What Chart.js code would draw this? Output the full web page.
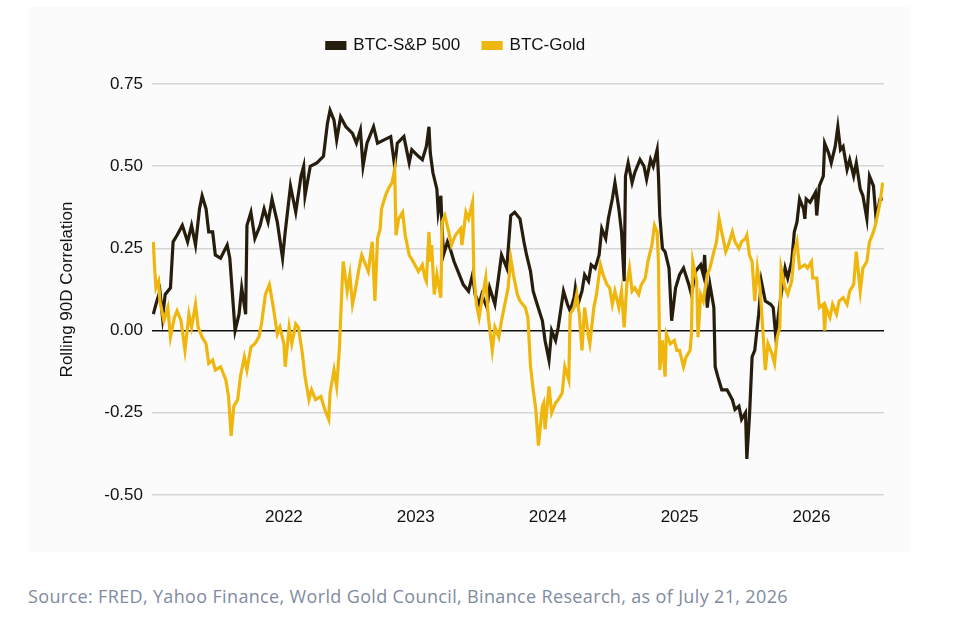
<!DOCTYPE html>
<html>
<head>
<meta charset="utf-8">
<title>BTC rolling correlation</title>
<script src="https://cdn.jsdelivr.net/npm/chart.js@4.4.1/dist/chart.umd.min.js"></script>
<style>
  html, body { margin: 0; padding: 0; background: #fff; }
  #panel { position: absolute; left: 28px; top: 7px; width: 882px; height: 545px; background: #fbfbfb; }
  #source { position: absolute; left: 28px; top: 584px; font: 18px "Open Sans", sans-serif; letter-spacing: 0.35px; color: #7f8ba0; white-space: nowrap; }
</style>
</head>
<body>
<div id="panel"><canvas id="myChart"></canvas></div>
<div id="source">Source: FRED, Yahoo Finance, World Gold Council, Binance Research, as of July 21, 2026</div>
<script>
// dates are fractional years
const spDates = [
  2021.01,2021.03,2021.06,2021.08,2021.10,2021.14,2021.16,2021.19,2021.23,2021.27,2021.30,2021.33,2021.36,2021.38,2021.41,2021.43,2021.46,2021.48,2021.52,2021.57,2021.59,2021.61,2021.63,2021.66,2021.68,2021.71,2021.72,2021.75,2021.78,2021.82,2021.85,2021.88,2021.91,2021.95,2021.99,
  2022.01,2022.03,2022.05,2022.09,2022.13,2022.15,2022.16,2022.20,2022.25,2022.30,2022.33,2022.35,2022.38,2022.40,2022.43,2022.47,2022.52,2022.55,2022.58,2022.60,2022.63,2022.68,2022.71,2022.76,2022.81,2022.84,2022.86,2022.91,2022.95,2022.97,
  2023.02,2023.05,2023.08,2023.10,2023.11,2023.13,2023.16,2023.17,2023.19,2023.20,2023.21,2023.24,2023.26,2023.29,2023.32,2023.36,2023.40,2023.43,2023.45,2023.48,2023.50,2023.54,2023.56,2023.60,2023.63,2023.65,2023.69,2023.72,2023.75,2023.79,2023.82,2023.84,2023.87,2023.89,2023.92,2023.96,2023.98,
  2024.01,2024.03,2024.06,2024.08,2024.12,2024.15,2024.17,2024.20,2024.21,2024.23,2024.26,2024.28,2024.31,2024.33,2024.36,2024.39,2024.41,2024.44,2024.46,2024.49,2024.51,2024.54,2024.56,2024.58,2024.59,2024.61,2024.64,2024.66,2024.70,2024.73,2024.75,2024.78,2024.80,2024.83,2024.84,2024.85,2024.87,2024.89,2024.92,2024.94,2024.97,
  2025.00,2025.03,2025.07,2025.09,2025.12,2025.16,2025.18,2025.19,2025.21,2025.23,2025.26,2025.27,2025.29,2025.32,2025.36,2025.40,2025.42,2025.45,2025.47,2025.50,2025.51,2025.53,2025.55,2025.57,2025.60,2025.62,2025.65,2025.69,2025.71,2025.73,2025.75,2025.77,2025.80,2025.82,2025.85,2025.87,2025.89,2025.91,2025.94,2025.95,2025.96,2025.99,
  2026.03,2026.04,2026.06,2026.09,2026.10,2026.13,2026.15,2026.18,2026.20,2026.22,2026.24,2026.27,2026.29,2026.32,2026.34,2026.37,2026.39,2026.42,2026.44,2026.47,2026.49,2026.52,2026.54
];
const spValues = [
  0.05,0.08,0.12,0.04,0.11,0.13,0.27,0.29,0.32,0.27,0.32,0.26,0.37,0.41,0.37,0.30,0.30,0.23,0.22,0.26,0.22,0.11,0.00,0.05,0.13,0.05,0.32,0.36,0.28,0.32,0.37,0.33,0.40,0.33,0.22,
  0.30,0.37,0.44,0.36,0.47,0.50,0.41,0.50,0.51,0.53,0.63,0.67,0.64,0.58,0.65,0.62,0.60,0.57,0.61,0.50,0.57,0.62,0.57,0.58,0.59,0.50,0.57,0.59,0.51,0.55,
  0.53,0.52,0.56,0.62,0.54,0.48,0.43,0.36,0.41,0.31,0.23,0.27,0.25,0.21,0.18,0.14,0.12,0.17,0.11,0.08,0.11,0.07,0.13,0.08,0.17,0.23,0.19,0.35,0.36,0.34,0.27,0.23,0.18,0.12,0.08,0.03,-0.03,
  -0.09,0.00,-0.03,0.01,0.12,0.08,0.06,0.10,0.13,0.08,0.12,0.17,0.15,0.20,0.19,0.23,0.31,0.28,0.34,0.40,0.45,0.37,0.30,0.15,0.47,0.51,0.45,0.48,0.52,0.50,0.46,0.52,0.50,0.55,0.47,0.35,0.25,0.24,0.19,0.03,0.13,
  0.17,0.19,0.14,0.11,0.18,0.20,0.17,0.23,0.07,0.14,0.07,-0.11,-0.14,-0.18,-0.18,-0.21,-0.24,-0.23,-0.27,-0.25,-0.39,-0.26,-0.08,-0.06,0.05,0.15,0.09,0.08,0.07,-0.02,0.05,0.11,0.19,0.16,0.21,0.30,0.33,0.40,0.37,0.34,0.40,0.39,
  0.42,0.35,0.44,0.47,0.57,0.54,0.51,0.56,0.62,0.55,0.56,0.49,0.52,0.47,0.51,0.43,0.41,0.34,0.47,0.44,0.34,0.40,0.40
];

const goldDates = [
  2021.01,2021.02,2021.03,2021.05,2021.06,2021.09,2021.12,2021.14,2021.17,2021.19,2021.22,2021.25,2021.28,2021.30,2021.33,2021.35,2021.38,2021.41,2021.43,2021.46,2021.48,2021.52,2021.56,2021.58,2021.60,2021.62,2021.65,2021.67,2021.70,2021.72,2021.75,2021.78,2021.81,2021.83,2021.86,2021.89,2021.92,2021.95,2021.97,
  2022.00,2022.01,2022.04,2022.06,2022.09,2022.11,2022.14,2022.16,2022.19,2022.21,2022.24,2022.28,2022.31,2022.34,2022.35,2022.38,2022.40,2022.42,2022.44,2022.45,2022.48,2022.50,2022.52,2022.54,2022.57,2022.59,2022.62,2022.64,2022.67,2022.69,2022.71,2022.73,2022.74,2022.77,2022.79,2022.82,2022.84,2022.85,2022.87,2022.90,2022.92,2022.95,2022.98,
  2023.02,2023.05,2023.07,2023.08,2023.10,2023.11,2023.12,2023.14,2023.16,2023.19,2023.20,2023.22,2023.25,2023.27,2023.30,2023.34,2023.35,2023.38,2023.40,2023.43,2023.44,2023.46,2023.48,2023.50,2023.53,2023.55,2023.58,2023.60,2023.63,2023.65,2023.68,2023.70,2023.72,2023.74,2023.77,2023.79,2023.83,2023.85,2023.87,2023.89,2023.91,2023.93,2023.96,2023.97,2023.98,
  2024.01,2024.03,2024.06,2024.08,2024.11,2024.13,2024.16,2024.17,2024.20,2024.22,2024.24,2024.26,2024.28,2024.31,2024.32,2024.35,2024.37,2024.40,2024.42,2024.45,2024.47,2024.49,2024.51,2024.54,2024.56,2024.58,2024.60,2024.62,2024.64,2024.66,2024.69,2024.71,2024.74,2024.76,2024.79,2024.81,2024.83,2024.84,2024.85,2024.87,2024.89,2024.90,2024.93,2024.96,2024.98,
  2025.00,2025.03,2025.05,2025.08,2025.09,2025.10,2025.13,2025.14,2025.16,2025.18,2025.21,2025.23,2025.26,2025.28,2025.30,2025.32,2025.35,2025.37,2025.40,2025.42,2025.45,2025.47,2025.50,2025.51,2025.53,2025.55,2025.57,2025.59,2025.61,2025.63,2025.65,2025.67,2025.70,2025.72,2025.74,2025.76,2025.77,2025.80,2025.82,2025.85,2025.87,2025.89,2025.91,2025.95,2025.97,
  2026.00,2026.01,2026.04,2026.06,2026.09,2026.10,2026.11,2026.14,2026.16,2026.19,2026.21,2026.24,2026.27,2026.29,2026.32,2026.34,2026.35,2026.37,2026.39,2026.42,2026.44,2026.47,2026.49,2026.52,2026.54
];
const goldValues = [
  0.27,0.19,0.13,0.15,0.09,0.03,0.07,-0.02,0.04,0.06,0.03,-0.06,0.05,0.01,0.08,0.01,-0.02,-0.04,-0.10,-0.09,-0.12,-0.11,-0.15,-0.20,-0.32,-0.23,-0.21,-0.14,-0.08,-0.12,-0.05,-0.04,-0.02,0.02,0.11,0.14,0.07,-0.01,0.01,
  -0.04,-0.11,0.01,-0.04,0.02,0.01,-0.07,-0.14,-0.21,-0.18,-0.21,-0.20,-0.24,-0.27,-0.19,-0.12,-0.17,-0.06,0.13,0.21,0.12,0.17,0.08,0.12,0.19,0.23,0.20,0.18,0.27,0.09,0.28,0.31,0.37,0.41,0.43,0.45,0.49,0.29,0.34,0.36,0.29,0.23,0.21,
  0.18,0.20,0.16,0.15,0.30,0.21,0.26,0.11,0.17,0.10,0.33,0.35,0.30,0.26,0.29,0.31,0.26,0.36,0.34,0.39,0.17,0.08,0.04,0.09,0.16,0.04,-0.06,0.01,-0.02,0.03,0.09,0.13,0.22,0.17,0.11,0.09,0.07,0.04,-0.11,-0.18,-0.24,-0.35,-0.23,-0.22,-0.30,
  -0.17,-0.25,-0.22,-0.21,-0.19,-0.11,-0.15,0.05,0.07,0.11,0.05,-0.06,0.07,-0.02,-0.04,0.07,0.11,0.20,0.17,0.14,0.13,0.08,0.12,0.07,0.12,0.01,0.14,0.19,0.12,0.13,0.11,0.14,0.16,0.21,0.26,0.32,0.30,0.21,-0.12,-0.03,-0.14,-0.01,-0.04,-0.03,-0.06,
  -0.06,-0.11,-0.08,-0.06,-0.01,0.21,0.15,-0.02,0.11,0.09,0.17,0.19,0.24,0.27,0.34,0.30,0.24,0.26,0.30,0.27,0.25,0.27,0.28,0.29,0.23,0.21,0.09,0.19,0.13,0.01,-0.12,-0.04,-0.07,-0.10,-0.02,0.01,0.19,0.13,0.11,0.15,0.24,0.27,0.19,0.20,0.19,
  0.21,0.16,0.16,0.07,0.08,0.00,0.07,0.04,0.08,0.05,0.09,0.10,0.08,0.12,0.14,0.24,0.20,0.12,0.19,0.21,0.27,0.30,0.33,0.39,0.45
];

const yearTicks = [2022, 2023, 2024, 2025, 2026];
const corrTicks = [-0.5, -0.25, 0, 0.25, 0.5, 0.75];

const toPoints = (dates, values) => dates.map((d, i) => ({ x: d, y: values[i] }));

// keep chart area clear of the legend
const legendSpace = {
  id: 'legendSpace',
  beforeLayout(chart) {
    const lg = chart.legend;
    if (!lg || lg._spaced) return;
    const fit = lg.fit;
    lg.fit = function () {
      fit.call(this);
      this.height = 70;
    };
    lg._spaced = true;
  }
};

const font = { family: '"Liberation Sans", Arial, sans-serif', size: 17 };

let ctx = document.getElementById('myChart').getContext('2d');

let corrChart = new Chart(ctx, {
  type: 'line',
  data: {
    datasets: [{
      label: 'BTC-S&P 500',
      data: toPoints(spDates, spValues),
      borderColor: '#261d0c',
      backgroundColor: '#261d0c',
      borderWidth: 3.2,
      pointRadius: 0,
      tension: 0,
      order: 1
    }, {
      label: 'BTC-Gold',
      data: toPoints(goldDates, goldValues),
      borderColor: '#efb60e',
      backgroundColor: '#efb60e',
      borderWidth: 3.2,
      pointRadius: 0,
      tension: 0,
      order: 0
    }]
  },
  options: {
    responsive: true,
    maintainAspectRatio: false,
    animation: false,
    layout: { padding: { top: 7, right: 26, left: 0, bottom: 0 } },
    plugins: {
      tooltip: { enabled: false },
      legend: {
        display: true,
        position: 'top',
        labels: {
          boxWidth: 18,
          boxHeight: 6,
          padding: 23,
          color: '#111',
          font: font,
          sort: (a, b) => a.datasetIndex - b.datasetIndex
        }
      }
    },
    scales: {
      x: {
        type: 'linear',
        min: 2021,
        max: 2026.55,
        afterBuildTicks: (scale) => {
          scale.ticks = yearTicks.map(v => ({ value: v }));
        },
        afterFit: (scale) => { scale.height = 57; },
        ticks: {
          color: '#111',
          font: font,
          padding: 12,
          maxRotation: 0,
          callback: (v) => String(v)
        },
        grid: { display: false, drawTicks: false },
        border: { display: false }
      },
      y: {
        min: -0.5,
        max: 0.75,
        afterBuildTicks: (scale) => {
          scale.ticks = corrTicks.map(v => ({ value: v }));
        },
        afterFit: (scale) => { scale.width = 124; },
        title: {
          display: true,
          text: 'Rolling 90D Correlation',
          color: '#111',
          font: font,
          padding: { top: 29, bottom: 0 }
        },
        ticks: {
          color: '#111',
          font: font,
          padding: 9,
          callback: (v) => v.toFixed(2)
        },
        grid: {
          drawTicks: false,
          lineWidth: 1.5,
          color: (c) => (c.tick && c.tick.value === 0) ? '#111' : '#d6d6d6'
        },
        border: { display: false }
      }
    }
  },
  plugins: [legendSpace]
});
</script>
</body>
</html>
